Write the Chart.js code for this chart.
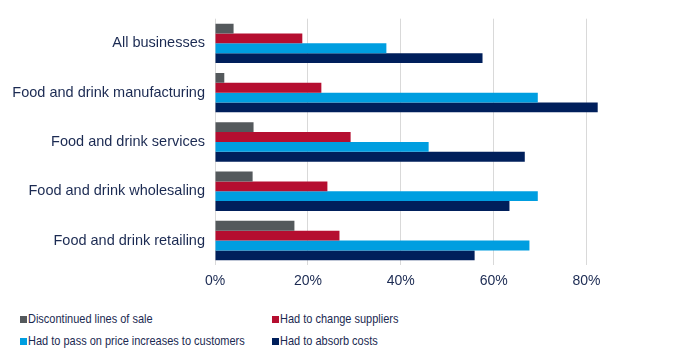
<!DOCTYPE html>
<html>
<head>
<meta charset="utf-8">
<script src="https://cdn.jsdelivr.net/npm/chart.js@4/dist/chart.umd.min.js"></script>
<style>
    body { margin: 0; background: #fff; font-family: "Liberation Sans", Arial, sans-serif; }
    #wrap { position: relative; width: 681px; height: 300px; }
    #legend { position: relative; width: 681px; height: 62px; }
    .leg-item { position: absolute; font-size: 13px; color: #1b2a52; white-space: nowrap; line-height: 16px; }
    .leg-box { position: absolute; left: 0; top: 5px; width: 7px; height: 7px; }
    .leg-text { position: absolute; left: 8px; top: 0; transform: scaleX(0.845); transform-origin: 0 0; }
</style>
</head>
<body>
<div id="wrap"><canvas id="chart"></canvas></div>
<div id="legend"></div>
<script>
const categories = [
    'All businesses',
    'Food and drink manufacturing',
    'Food and drink services',
    'Food and drink wholesaling',
    'Food and drink retailing'
];
const seriesNames = [
    'Discontinued lines of sale',
    'Had to change suppliers',
    'Had to pass on price increases to customers',
    'Had to absorb costs'
];
const discontinued = [4.0, 2.0, 8.3, 8.1, 17.1];
const changeSuppliers = [18.8, 22.9, 29.2, 24.2, 26.8];
const passOnPrices = [36.9, 69.5, 46.0, 69.5, 67.7];
const absorbCosts = [57.6, 82.4, 66.7, 63.4, 55.9];
const xTicks = [0, 20, 40, 60, 80];

const colours = ['#54595c', '#b50e30', '#009ee0', '#001f5b'];
const textColour = '#1b2a52';

const allSeries = [discontinued, changeSuppliers, passOnPrices, absorbCosts];

const datasets = allSeries.map((vals, i) => ({
    label: seriesNames[i],
    data: vals,
    backgroundColor: colours[i],
    borderWidth: 0,
    barPercentage: 1,
    categoryPercentage: 0.8
}));

new Chart(document.getElementById('chart'), {
    type: 'bar',
    data: { labels: categories, datasets: datasets },
    options: {
        indexAxis: 'y',
        responsive: true,
        maintainAspectRatio: false,
        animation: false,
        layout: { padding: { top: 10, right: 48, bottom: 2, left: 0 } },
        plugins: {
            legend: { display: false },
            tooltip: { enabled: false }
        },
        scales: {
            x: {
                min: 0,
                max: 90,
                afterBuildTicks: function(axis) {
                    axis.ticks = xTicks.map(v => ({ value: v }));
                },
                ticks: {
                    color: textColour,
                    font: { family: '"Liberation Sans", Arial', size: 14 },
                    padding: 8,
                    callback: function(value) { return value + '%'; }
                },
                grid: { color: '#d9d9d9', drawTicks: false },
                border: { display: false }
            },
            y: {
                afterFit: function(scale) { scale.width = 215; },
                ticks: {
                    color: textColour,
                    font: { family: '"Liberation Sans", Arial', size: 14.5 },
                    padding: 10
                },
                grid: { display: false, drawTicks: false },
                border: { display: false }
            }
        }
    }
});

// legend in two columns like the original
const legend = document.getElementById('legend');
const legPos = [[20, 11], [272, 11], [20, 33], [272, 33]];
seriesNames.forEach((name, i) => {
    const item = document.createElement('div');
    item.className = 'leg-item';
    item.style.left = legPos[i][0] + 'px';
    item.style.top = legPos[i][1] + 'px';
    item.innerHTML = '<span class="leg-box" style="background:' + colours[i] + '"></span>' +
        '<span class="leg-text">' + name + '</span>';
    legend.appendChild(item);
});
</script>
</body>
</html>
